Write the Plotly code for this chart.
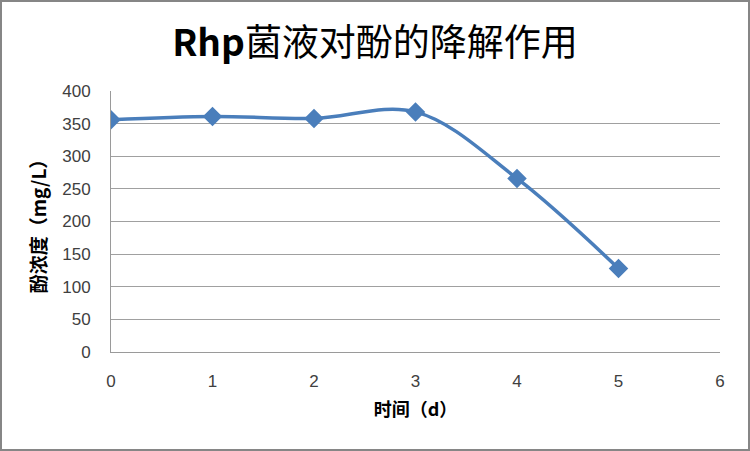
import plotly.graph_objects as go

days = [0, 1, 2, 3, 4, 5]
phenol = [356, 361, 358, 368, 266, 128]
x_ticks = [0, 1, 2, 3, 4, 5, 6]
y_ticks = [0, 50, 100, 150, 200, 250, 300, 350, 400]

W, H = 750, 451
L, R, T, B = 111, 30, 91, 99
pw, ph = W - L - R, H - T - B

fig = go.Figure()
fig.add_trace(go.Scatter(
    x=days, y=phenol, mode="lines+markers",
    line=dict(color="#4A7EBB", width=3.5, shape="spline", smoothing=1.0),
    marker=dict(symbol="diamond", size=15, color="#4A7EBB"),
    showlegend=False,
))

fig.update_layout(
    width=W, height=H,
    margin=dict(l=L, r=R, t=T, b=B),
    paper_bgcolor="white", plot_bgcolor="white",
    font=dict(family="Noto Sans CJK SC, Liberation Sans, sans-serif", color="#404040"),
    title=dict(
        text="<b>Rhp</b>菌液对酚的降解作用",
        x=0.5, xanchor="center", y=1 - 43 / H, yanchor="middle",
        font=dict(size=37, color="#000000", family="Noto Sans CJK SC, Liberation Sans, sans-serif"),
    ),
    xaxis=dict(
        range=[0, 6], tickvals=x_ticks, ticks="", showgrid=False,
        showline=True, linecolor="#9A9A9A", linewidth=1,
        tickfont=dict(size=17, family="Liberation Sans, sans-serif", color="#404040"),
        ticklabelstandoff=14,
        zeroline=False,
        title=dict(text="<b>时间（d）</b>", font=dict(size=18, color="#000000"), standoff=12),
    ),
    yaxis=dict(
        range=[0, 400], tickvals=y_ticks, ticks="",
        showgrid=True, gridcolor="#A0A0A0", gridwidth=1,
        showline=True, linecolor="#9A9A9A", linewidth=1,
        tickfont=dict(size=17, family="Liberation Sans, sans-serif", color="#404040"),
        ticklabelstandoff=16,
        zeroline=False,
        title=dict(text="<b>酚浓度（mg/L）</b>", font=dict(size=19, color="#000000"), standoff=10),
    ),
    shapes=[dict(
        type="rect", xref="paper", yref="paper",
        x0=(1 - L) / pw, x1=(W - 1 - L) / pw,
        y0=(H - B - (H - 1)) / ph, y1=(H - B - 1) / ph,
        line=dict(color="#868686", width=2), fillcolor="rgba(0,0,0,0)",
        layer="below",
    )],
)

fig.write_html("out.html", config={"displayModeBar": False},
               post_script="document.body.style.margin='0';")
